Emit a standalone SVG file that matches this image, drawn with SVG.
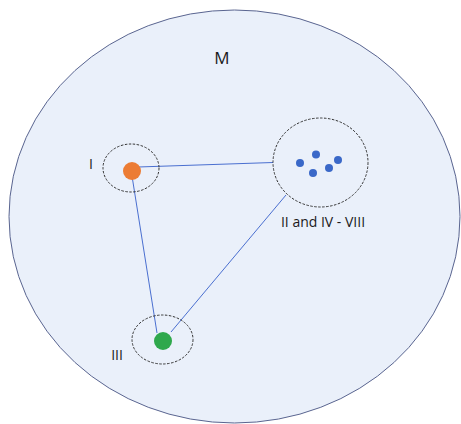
<svg xmlns="http://www.w3.org/2000/svg" width="461" height="424" viewBox="0 0 461 424">
<style>
.lbl{font-family:"Open Sans","Liberation Sans",sans-serif;fill:#1a1a1a;text-anchor:middle}
.grp{fill:none;stroke:#333;stroke-width:1;stroke-dasharray:2.5 1.5}
.conn{stroke:#4a6fd0;stroke-width:1;fill:none}
.blue{fill:#3a68c8}
</style>
<rect width="461" height="424" fill="#ffffff"/>
<g id="M">
<ellipse cx="234.5" cy="216.5" rx="225.5" ry="206.5" fill="#eaf0fa" stroke="#5a6590" stroke-width="1"/>
<text class="lbl" x="222" y="64" font-size="17">M</text>
</g>
<g id="connectors">
<line class="conn" x1="138" y1="167" x2="273" y2="162.5"/>
<line class="conn" x1="132" y1="176" x2="157" y2="333"/>
<line class="conn" x1="286" y1="195" x2="171" y2="332"/>
</g>
<g id="I">
<ellipse class="grp" cx="131" cy="168" rx="28" ry="24"/>
<circle cx="132" cy="171" r="9" fill="#ec7c34"/>
<text class="lbl" x="91" y="169" font-size="14">I</text>
</g>
<g id="II-VIII">
<ellipse class="grp" cx="320.5" cy="162.5" rx="47.5" ry="44.5"/>
<circle class="blue" cx="300" cy="163" r="4"/>
<circle class="blue" cx="316" cy="154.5" r="4"/>
<circle class="blue" cx="338" cy="160" r="4"/>
<circle class="blue" cx="329" cy="168" r="4"/>
<circle class="blue" cx="313" cy="173" r="4"/>
<text class="lbl" x="323" y="227" font-size="14">II and IV - VIII</text>
</g>
<g id="III">
<ellipse class="grp" cx="162.5" cy="339.5" rx="30.5" ry="24.5"/>
<circle cx="163" cy="341" r="9" fill="#2fa84c"/>
<text class="lbl" x="117" y="360" font-size="14">III</text>
</g>
</svg>
